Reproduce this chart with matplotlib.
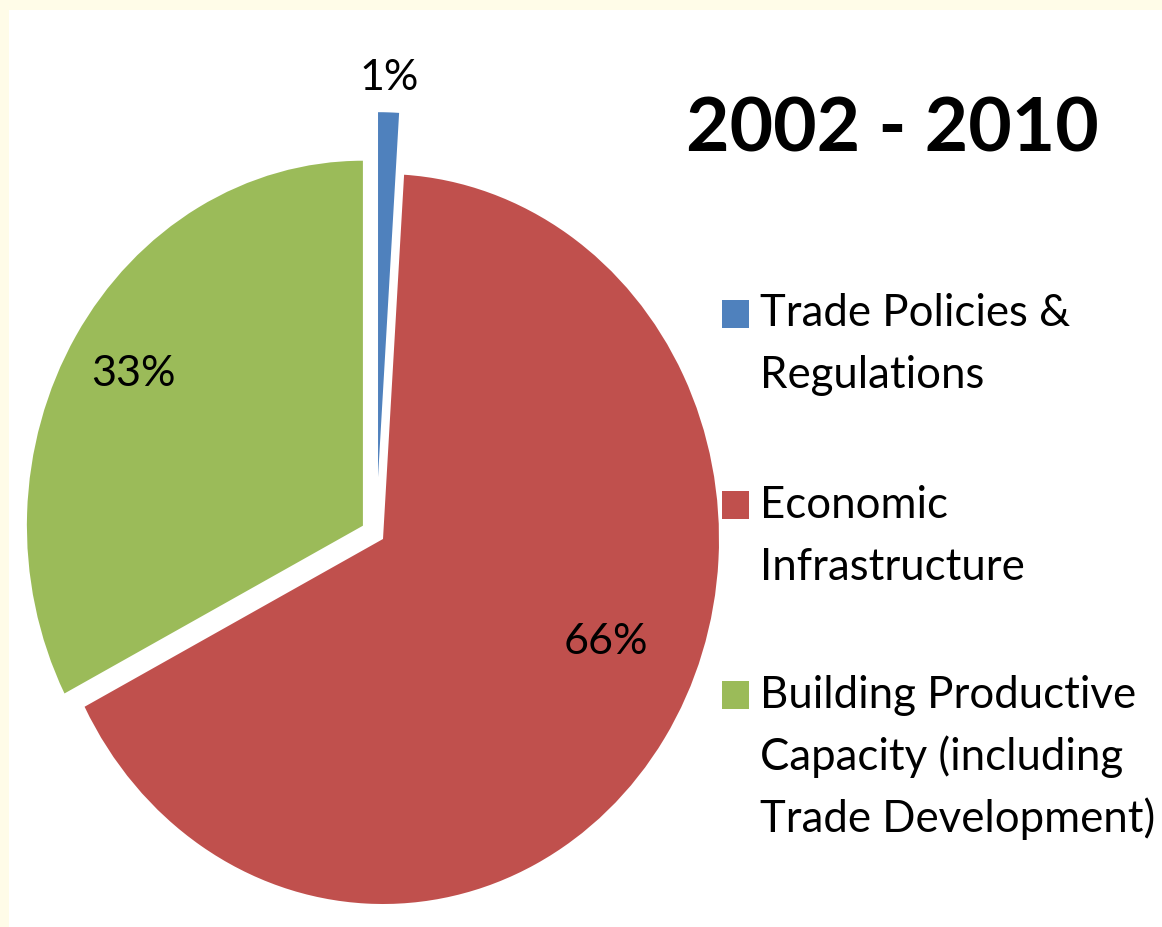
import matplotlib
matplotlib.use("Agg")
import matplotlib.pyplot as plt
from matplotlib.patches import Rectangle
import numpy as np

# ---- data ----
categories = ["Trade Policies &\nRegulations",
              "Economic\nInfrastructure",
              "Building Productive\nCapacity (including\nTrade Development)"]
values = [1.0, 66.4, 32.6]
pct_labels = ["1%", "66%", "33%"]
title_text = "2002 - 2010"

# ---- style ----
colors = ["#4F81BD", "#C0504D", "#9BBB59"]
explode = [0.17, 0.0, 0.07]
explode_dir = [95.0, None, None]   # override explosion direction (deg)
label_r = [1.093, 0.72, 0.80]
label_da = [0.0, 10.0, 0.0]
FONT = ["Lato", "DejaVu Sans"]

W, H = 1162, 927
fig = plt.figure(figsize=(W / 100, H / 100), dpi=100)
fig.patch.set_facecolor("#FFFCE8")
fig.add_artist(Rectangle((9 / W, 0), 1, (H - 10) / H, transform=fig.transFigure,
                         facecolor="white", edgecolor="none", zorder=0))

# axes placement: pie center at (383, 539) px, scale 336 px/unit in x, 365 in y
cx, cy = 383, 539
sx, sy = 336, 365
xl = (-1.1, 1.1)
yl = (-1.1, 1.3)
left = cx + xl[0] * sx
top = cy - yl[1] * sy
wpx = (xl[1] - xl[0]) * sx
hpx = (yl[1] - yl[0]) * sy
ax = fig.add_axes([left / W, (H - top - hpx) / H, wpx / W, hpx / H])
ax.patch.set_alpha(0)

wedges, _ = ax.pie(values, colors=colors, explode=explode, startangle=90,
                   counterclock=False, wedgeprops=dict(linewidth=0))
ax.set_aspect("auto")
ax.set_xlim(*xl)
ax.set_ylim(*yl)
ax.axis("off")

for w, ex, dr in zip(wedges, explode, explode_dir):
    if dr is not None:
        a = np.deg2rad(dr)
        w.set_center((ex * np.cos(a), ex * np.sin(a)))

for w, lab, r, da in zip(wedges, pct_labels, label_r, label_da):
    mid = np.deg2rad((w.theta1 + w.theta2) / 2)
    ox, oy = w.center
    a = mid + np.deg2rad(da)
    ax.text(ox + r * np.cos(a), oy + r * np.sin(a), lab, ha="center", va="center",
            fontsize=31, family=FONT, color="black")

fig.text(892 / W, 1 - 130 / H, title_text, ha="center", va="center",
         fontsize=54, fontweight="bold", family=FONT)

# legend drawn manually
first_line_y = [314, 505, 695]
line_gap = 62
for i, (cat, col) in enumerate(zip(categories, colors)):
    y0 = first_line_y[i]
    fig.add_artist(Rectangle((722 / W, 1 - (y0 + 14) / H), 27 / W, 28 / H,
                             transform=fig.transFigure, facecolor=col, edgecolor="none"))
    for j, line in enumerate(cat.split("\n")):
        fig.text(760 / W, 1 - (y0 + j * line_gap) / H, line, ha="left", va="center",
                 fontsize=31.5, family=FONT)

fig.savefig("out.png", dpi=100, facecolor=fig.get_facecolor())
